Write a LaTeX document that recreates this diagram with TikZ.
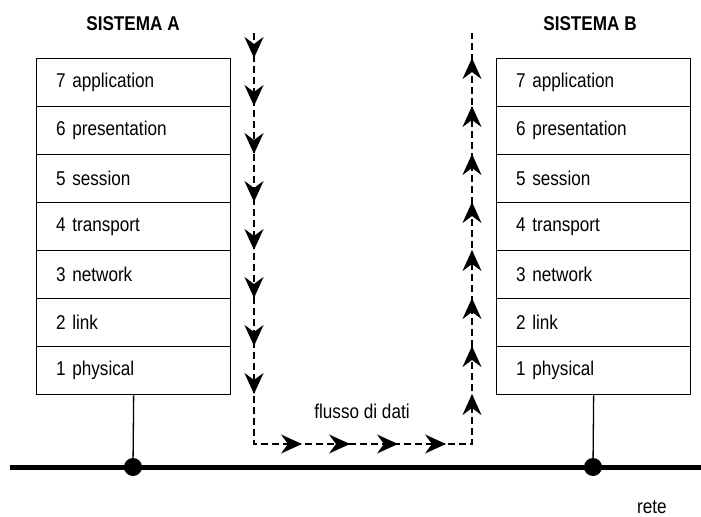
\documentclass[tikz,border=0pt]{standalone}
\usepackage{fontspec}
\setmainfont[FakeStretch=0.86]{Liberation Sans}
\usetikzlibrary{arrows.meta}
\begin{document}
\begin{tikzpicture}[x=1bp,y=-1bp,
  layer/.style={draw,line width=1.3bp,anchor=north west,minimum height=48bp,
    text width=155bp,inner xsep=19.5bp,align=left,font=\fontsize{20}{22}\selectfont},
  title/.style={font=\fontsize{20}{22}\selectfont\bfseries},
  lbl/.style={font=\fontsize{20}{22}\selectfont},
  flow/.style={line width=1.6bp,dash pattern=on 7bp off 4bp},
  tip/.style={line width=1.6bp,-{Stealth[length=21bp,width=19bp,inset=7bp]}},
  dot/.style={circle,fill,inner sep=0pt,minimum size=18bp}]
\useasboundingbox (0,0) rectangle (701,517);
% stacks
\foreach \n/\t [count=\i from 0] in {7/7 application,6/6 presentation,5/5 session,4/4 transport,3/3 network,2/2 link,1/1 physical}{
  \node[layer] (a\n) at (36,58+48*\i) {\t};
  \node[layer] (b\n) at (496,58+48*\i) {\t};
}
\node[title] (ta) at (133,24) {SISTEMA A};
\node[title] (tb) at (590,24) {SISTEMA B};
% network
\coordinate (busL) at (10,467);
\coordinate (busR) at (701,467);
\draw[line width=5bp] (busL) -- (busR);
\node[dot] (da) at (133,467) {};
\node[dot] (db) at (593,467) {};
\draw[line width=1.3bp] (a1.south) -- (da);
\draw[line width=1.3bp] (b1.south) -- (db);
\node[lbl] (rete) at (652,507) {rete};
% data flow
\coordinate (f1) at (254,33);
\coordinate (f2) at (254,444);
\coordinate (f3) at (472,444);
\coordinate (f4) at (472,33);
\draw[flow] (f1) -- (f2) -- (f3) -- (f4);
\foreach \k in {0,...,7}{
  \draw[tip] (254,57+48*\k) -- (254,58+48*\k);
  \draw[tip] (472,59+48*\k) -- (472,58+48*\k);
}
\foreach \xx in {302,350,398,446}{
  \draw[tip] (\xx-1,444) -- (\xx,444);
}
\node[lbl] (flusso) at (362,411) {flusso di dati};
\end{tikzpicture}
\end{document}
